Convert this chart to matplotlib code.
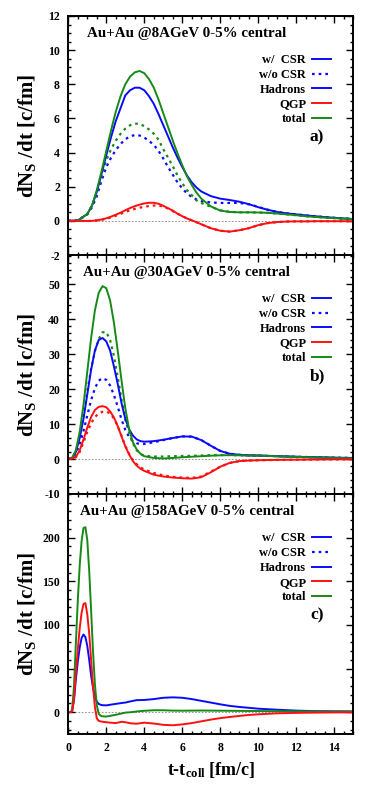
import matplotlib
matplotlib.use("Agg")
import matplotlib.pyplot as plt
from matplotlib.lines import Line2D
from matplotlib.ticker import MultipleLocator, FixedLocator

plt.rcParams["font.family"] = "Liberation Serif"
plt.rcParams["font.weight"] = "bold"
plt.rcParams["axes.unicode_minus"] = False
plt.rcParams["mathtext.fontset"] = "custom"
plt.rcParams["mathtext.rm"] = "Liberation Serif:bold"
plt.rcParams["mathtext.it"] = "Liberation Serif:bold"
plt.rcParams["mathtext.bf"] = "Liberation Serif:bold"

BLUE = "#0a0aff"
RED = "#ff1010"
GREEN = "#168a16"

# ---------- panel a: 8 AGeV ----------
t_a = [0, 0.5, 1.0, 1.25, 1.5, 1.75, 2.0, 2.25, 2.5, 2.75, 3.0, 3.25, 3.5, 3.75,
       4.0, 4.25, 4.5, 4.75, 5.0, 5.25, 5.5, 5.75, 6.0, 6.25, 6.5, 6.75, 7.0,
       7.5, 8.0, 8.5, 9.0, 9.5, 10.0, 10.5, 11.0, 11.5, 12.0, 12.5, 13.0, 13.5,
       14.0, 14.5, 15.0]
had_a = [0, 0.02, 0.4, 0.9, 1.7, 2.75, 3.85, 4.9, 5.85, 6.6, 7.35, 7.65, 7.8, 7.8,
         7.65, 7.3, 6.85, 6.25, 5.6, 4.95, 4.3, 3.7, 3.15, 2.65, 2.25, 1.95, 1.72,
         1.45, 1.3, 1.22, 1.12, 0.98, 0.8, 0.65, 0.52, 0.44, 0.38, 0.32, 0.27, 0.22,
         0.18, 0.14, 0.11]
had_a_nocsr = [0, 0.02, 0.38, 0.8, 1.45, 2.35, 3.15, 3.7, 4.15, 4.5, 4.78, 4.95, 5.03, 5.0,
               4.88, 4.68, 4.45, 4.1, 3.65, 3.15, 2.7, 2.25, 1.9, 1.6, 1.4, 1.25, 1.15,
               1.08, 1.05, 1.05, 1.05, 0.97, 0.82, 0.65, 0.52, 0.44, 0.38, 0.32, 0.27, 0.22,
               0.18, 0.14, 0.11]
qgp_a = [0, 0, -0.01, 0.0, 0.03, 0.08, 0.15, 0.25, 0.36, 0.48, 0.62, 0.75, 0.86, 0.95,
         1.02, 1.06, 1.06, 1.0, 0.88, 0.74, 0.6, 0.42, 0.27, 0.14, 0.03, -0.08, -0.2,
         -0.43, -0.58, -0.63, -0.55, -0.43, -0.25, -0.13, -0.07, -0.04, -0.03, -0.03, -0.02, -0.02,
         -0.02, -0.02, -0.02]
qgp_a_nocsr = [0, 0, -0.01, 0.0, 0.02, 0.06, 0.12, 0.2, 0.3, 0.41, 0.52, 0.62, 0.7, 0.77,
               0.82, 0.87, 0.9, 0.9, 0.84, 0.72, 0.57, 0.42, 0.27, 0.14, 0.03, -0.08, -0.2,
               -0.43, -0.58, -0.63, -0.55, -0.43, -0.25, -0.13, -0.07, -0.04, -0.03, -0.03, -0.02, -0.02,
               -0.02, -0.02, -0.02]
tot_a = [0, 0.02, 0.4, 0.9, 1.8, 2.9, 4.1, 5.3, 6.4, 7.3, 8.0, 8.45, 8.7, 8.78,
         8.65, 8.3, 7.8, 7.1, 6.3, 5.5, 4.7, 3.95, 3.25, 2.6, 2.1, 1.65, 1.3,
         0.85, 0.6, 0.52, 0.5, 0.5, 0.49, 0.47, 0.43, 0.38, 0.33, 0.27, 0.23, 0.19,
         0.16, 0.13, 0.1]
tot_a_nocsr = [0, 0.02, 0.4, 0.9, 1.6, 2.6, 3.55, 4.2, 4.7, 5.1, 5.4, 5.6, 5.7, 5.68,
               5.55, 5.35, 5.1, 4.75, 4.2, 3.7, 3.2, 2.65, 2.2, 1.8, 1.5, 1.2, 1.05,
               0.82, 0.62, 0.53, 0.5, 0.5, 0.49, 0.47, 0.43, 0.38, 0.33, 0.27, 0.23, 0.19,
               0.16, 0.13, 0.1]

# ---------- panel b: 30 AGeV ----------
t_b = [0, 0.2, 0.4, 0.6, 0.8, 1.0, 1.2, 1.4, 1.6, 1.8, 2.0, 2.2, 2.4, 2.6, 2.8, 3.0,
       3.2, 3.4, 3.6, 3.8, 4.0, 4.5, 5.0, 5.5, 6.0, 6.5, 7.0, 7.5, 8.0, 8.5, 9.0,
       9.5, 10, 11, 12, 13, 14, 15]
had_b = [0, 0.3, 2.0, 6.0, 11.5, 18.5, 25.5, 31, 34, 34.6, 33.6, 31, 26.5, 21.5, 16, 11.5,
         8.5, 6.7, 5.6, 5.1, 4.95, 5.1, 5.5, 6.0, 6.45, 6.4, 5.4, 3.8, 2.3, 1.5, 1.2,
         1.05, 1.0, 0.8, 0.65, 0.5, 0.4, 0.3]
had_b_nocsr = [0, 0.2, 1.5, 4.3, 8.0, 12.5, 16.8, 20.2, 22.4, 23.1, 22.6, 21.0, 18.3, 15, 11.3, 8.3,
               6.3, 5.1, 4.5, 4.3, 4.3, 4.8, 5.4, 6.0, 6.45, 6.4, 5.4, 3.8, 2.3, 1.5, 1.2,
               1.05, 1.0, 0.8, 0.65, 0.5, 0.4, 0.3]
qgp_b = [0, 0.1, 0.6, 2.5, 5.6, 9.0, 12.0, 14.0, 14.9, 15.1, 14.8, 13.6, 11.9, 9.4, 6.5, 3.6,
         1.3, -0.6, -1.9, -2.8, -3.4, -4.5, -5.0, -5.3, -5.5, -5.6, -5.2, -3.8, -2.2, -1.1, -0.6,
         -0.45, -0.35, -0.25, -0.2, -0.15, -0.1, -0.1]
qgp_b_nocsr = [0, 0.1, 0.5, 2.0, 4.8, 7.8, 10.2, 12.0, 13.0, 13.5, 13.6, 13.0, 11.6, 9.4, 6.6, 3.8,
               1.5, -0.3, -1.5, -2.4, -3.0, -4.0, -4.7, -5.1, -5.3, -5.4, -5.0, -3.6, -2.2, -1.1, -0.6,
               -0.45, -0.35, -0.25, -0.2, -0.15, -0.1, -0.1]
tot_b = [0, 0.3, 2.5, 7.8, 15.5, 25, 34.5, 42.5, 47.5, 49.4, 48.8, 45.3, 39, 31, 22.5, 14.5,
         8.5, 4.8, 2.7, 1.5, 0.8, 0.3, 0.15, 0.3, 0.5, 0.65, 0.8, 0.95, 1.05, 1.1, 1.05,
         1.0, 0.95, 0.8, 0.6, 0.45, 0.3, 0.2]
tot_b_nocsr = [0, 0.3, 2.2, 6.5, 12.5, 19.5, 25.8, 30.8, 34.3, 36.2, 36.3, 34, 29.5, 23.5, 17, 11.3,
               7.5, 4.5, 2.5, 1.4, 0.9, 0.7, 0.7, 0.8, 0.85, 0.9, 1.0, 1.1, 1.15, 1.15, 1.05,
               1.0, 0.95, 0.8, 0.6, 0.45, 0.3, 0.2]

# ---------- panel c: 158 AGeV ----------
t_c = [0, 0.1, 0.2, 0.3, 0.4, 0.5, 0.6, 0.7, 0.8, 0.9, 1.0, 1.1, 1.2, 1.3, 1.4, 1.5,
       1.6, 1.7, 1.8, 2.0, 2.2, 2.5, 2.8, 3.0, 3.3, 3.6, 4.0, 4.5, 5.0, 5.5, 6.0,
       6.5, 7.0, 7.5, 8.0, 8.5, 9, 9.5, 10, 11, 12, 13, 14, 15]
had_c = [0, 0, 1, 14, 38, 58, 74, 85, 89, 86, 76, 60, 42, 28, 18, 12,
         9.5, 8.5, 8, 7.8, 8.5, 9.5, 10.5, 11, 12.5, 13.8, 14, 15, 16.5, 17, 16.5,
         15, 13, 11, 9, 7.2, 6, 5, 4, 2.8, 1.8, 1.2, 1.0, 0.8]
qgp_c = [0, 0, 1, 15, 45, 72, 96, 114, 124, 125, 112, 90, 60, 30, 6, -7,
         -10, -10.5, -11, -11.5, -12, -12.5, -11, -11.5, -12.8, -13.2, -12, -13, -14.5, -15, -14,
         -12.5, -10.5, -8.5, -6.8, -5.5, -4.3, -3.2, -2.4, -1.3, -0.8, -0.5, -0.3, -0.2]
tot_c = [0, 0, 2, 30, 80, 128, 168, 196, 211, 212, 197, 162, 117, 70, 32, 8,
         -2, -4, -4.8, -5, -4.2, -3, -1.5, -0.5, 0, 0.8, 1.6, 2.2, 2.2, 1.8, 1.7,
         1.8, 1.9, 1.8, 1.7, 1.6, 1.5, 1.4, 1.3, 1.1, 1.0, 0.9, 0.8, 0.8]

titles = ["Au+Au @8AGeV 0-5% central", "Au+Au @30AGeV 0-5% central",
          "Au+Au @158AGeV 0-5% central"]
tags = ["a)", "b)", "c)"]
ylims = [(-2, 12), (-10, 58.3), (-25, 250)]
yticks = [[-2, 0, 2, 4, 6, 8, 10, 12],
          [-10, 0, 10, 20, 30, 40, 50],
          [0, 50, 100, 150, 200]]
yminor = [0.5, 2, 10]

fig = plt.figure(figsize=(3.74, 7.98), dpi=100)
left, width = 68.3 / 374, 285 / 374
boxes = [(16, 255), (255, 494), (494, 734)]
axes = []
for top, bot in boxes:
    axes.append(fig.add_axes([left, 1 - bot / 798, width, (bot - top) / 798]))

panels = [
    (t_a, had_a, had_a_nocsr, qgp_a, qgp_a_nocsr, tot_a, tot_a_nocsr),
    (t_b, had_b, had_b_nocsr, qgp_b, qgp_b_nocsr, tot_b, tot_b_nocsr),
    (t_c, had_c, None, qgp_c, None, tot_c, None),
]
dots = (0, (1.2, 1.8))

for i, ax in enumerate(axes):
    t, had, had0, qgp, qgp0, tot, tot0 = panels[i]
    ax.axhline(0, color="gray", lw=0.6, ls=(0, (2, 2)), zorder=1)
    if had0 is not None:
        ax.plot(t, had0, color=BLUE, lw=1.6, ls=dots)
        ax.plot(t, tot0, color=GREEN, lw=1.6, ls=dots)
        ax.plot(t, qgp0, color=RED, lw=1.6, ls=dots)
    ax.plot(t, had, color=BLUE, lw=1.4)
    ax.plot(t, tot, color=GREEN, lw=1.4)
    ax.plot(t, qgp, color=RED, lw=1.4)

    ax.set_xlim(0, 15)
    ax.set_ylim(*ylims[i])
    ax.xaxis.set_major_locator(MultipleLocator(2))
    ax.xaxis.set_minor_locator(MultipleLocator(0.5))
    ax.yaxis.set_major_locator(FixedLocator(yticks[i]))
    ax.yaxis.set_minor_locator(MultipleLocator(yminor[i]))
    ax.tick_params(which="both", direction="in", top=True, right=True,
                   labelsize=8.5, width=1.0, pad=6)
    ax.tick_params(which="major", length=5)
    ax.tick_params(which="minor", length=2.5)
    for s in ax.spines.values():
        s.set_linewidth(1.4)
    if i < 2:
        ax.tick_params(labelbottom=False)

    ax.set_ylabel(r"dN$_\mathrm{S}$ /dt [c/fm]", fontsize=15, fontweight="bold")
    ax.yaxis.set_label_coords(-0.108, 0.5)

    ax.text(0.416, 0.928, titles[i], transform=ax.transAxes, ha="center",
            va="center", fontsize=10.8, fontweight="bold")
    ax.text(0.873, 0.494, tags[i], transform=ax.transAxes, ha="center",
            va="center", fontsize=12.5, fontweight="bold")

    handles = [Line2D([], [], color=BLUE, lw=1.4),
               Line2D([], [], color=BLUE, lw=1.6, ls=dots),
               Line2D([], [], color=BLUE, lw=1.4),
               Line2D([], [], color=RED, lw=1.4),
               Line2D([], [], color=GREEN, lw=1.4)]
    labels = ["w/  CSR", "w/o CSR", "Hadrons", "QGP", "total"]
    ax.legend(handles, labels, loc="upper right", bbox_to_anchor=(0.922, 0.84),
              markerfirst=False, frameon=False, fontsize=9, handlelength=1.5,
              handletextpad=0.5, labelspacing=0.22, borderpad=0, borderaxespad=0)

axes[2].set_xlabel(r"t-t$_\mathrm{coll}$ [fm/c]", fontsize=13, fontweight="bold",
                   labelpad=4)

fig.savefig("out.png", dpi=100)
